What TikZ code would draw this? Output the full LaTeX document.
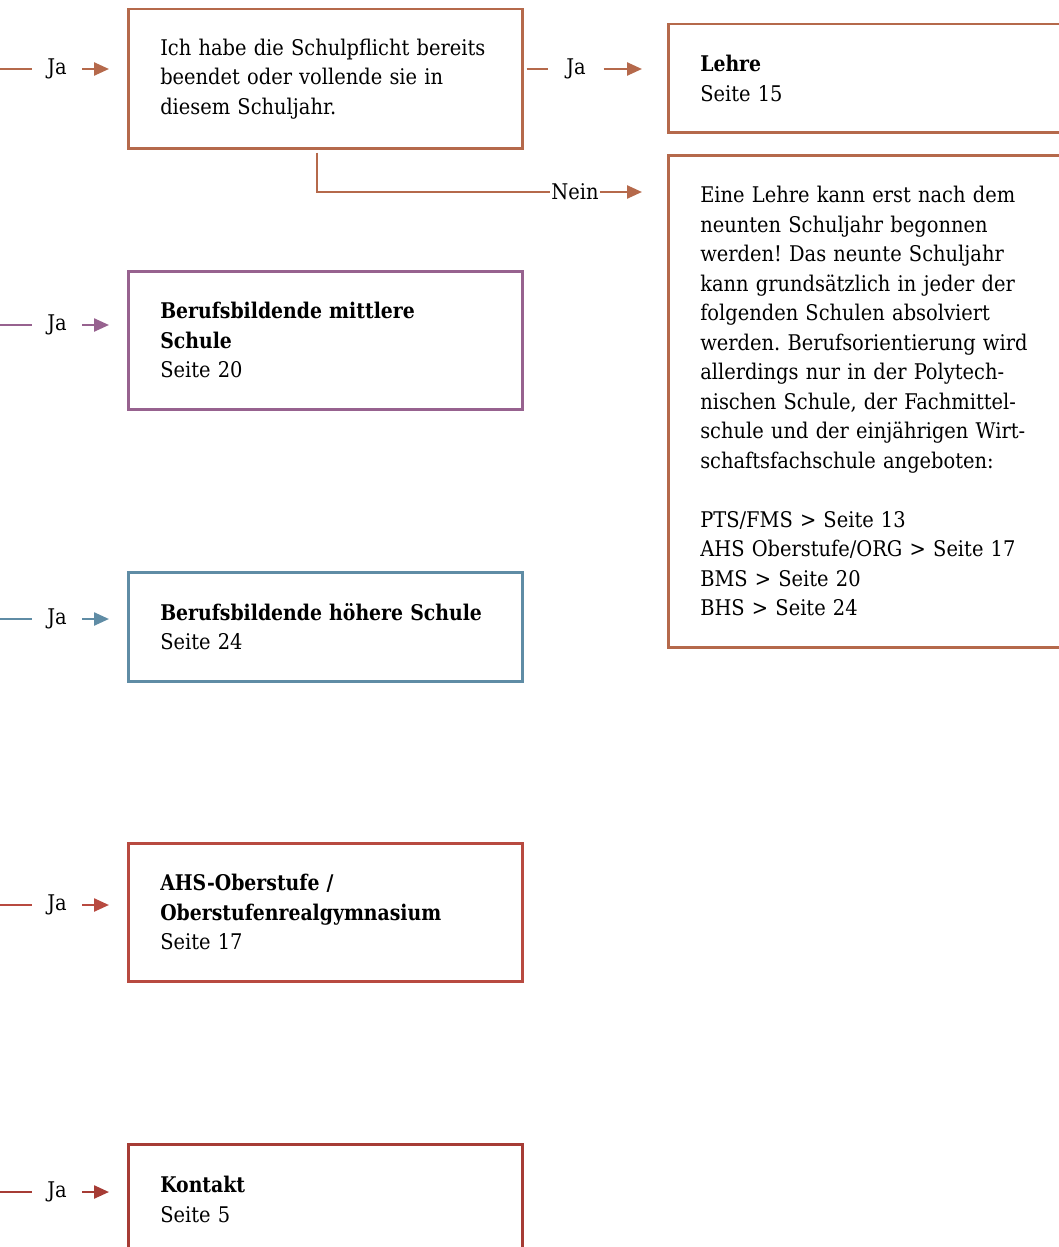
\documentclass[tikz,border=0pt]{standalone}
\usepackage{fontspec}
\setmainfont{DejaVu Serif Condensed}[BoldFeatures={FakeStretch=0.97}]
\usetikzlibrary{arrows.meta}
\definecolor{cbrown}{HTML}{B5694B}
\definecolor{cpurple}{HTML}{97628F}
\definecolor{cblue}{HTML}{5F8CA5}
\definecolor{cred}{HTML}{B84A40}
\definecolor{cdred}{HTML}{A63C35}
\frenchspacing
\begin{document}
\begin{tikzpicture}[x=1pt,y=-1pt,
  box/.style={draw=#1, line width=2.5pt, rectangle, anchor=north west,
    align=left, inner xsep=32pt, inner ysep=0pt,
    font=\fontsize{21.6}{29.5}\selectfont},
  lbl/.style={inner sep=0pt, minimum width=#1, font=\fontsize{21.6}{24}\selectfont},
  lbl/.default=50pt,
  conn/.style={draw=#1, line width=2.4pt},
  arr/.style={draw=#1, line width=2.4pt, -{Triangle[length=15pt,width=13pt]}}
]
\useasboundingbox (0,0) rectangle (1058,1247);

% boxes
\node[box=cbrown, text width=330pt, minimum height=139pt] (b1) at (127,8)
  {Ich habe die Schulpflicht bereits\\beendet oder vollende sie in\\diesem Schuljahr.};
\node[box=cbrown, text width=356pt, minimum height=108pt] (lehre) at (667,23)
  {\textbf{Lehre}\\Seite 15};
\node[box=cbrown, text width=356pt, minimum height=492pt] (info) at (667,154)
  {Eine Lehre kann erst nach dem\\neunten Schuljahr begonnen\\werden! Das neunte Schuljahr\\kann grundsätzlich in jeder der\\folgenden Schulen absolviert\\werden. Berufsorientierung wird\\allerdings nur in der Polytech-\\nischen Schule, der Fachmittel-\\schule und der einjährigen Wirt-\\schaftsfachschule angeboten:\\[29.5pt]PTS/FMS > Seite 13\\AHS Oberstufe/ORG > Seite 17\\BMS > Seite 20\\BHS > Seite 24};
\node[box=cpurple, text width=330pt, minimum height=138pt] (bms) at (127,270)
  {\textbf{Berufsbildende mittlere}\\\textbf{Schule}\\Seite 20};
\node[box=cblue, text width=330pt, minimum height=109pt] (bhs) at (127,571)
  {\mbox{\textbf{Berufsbildende höhere Schule}}\\Seite 24};
\node[box=cred, text width=330pt, minimum height=138pt] (ahs) at (127,842)
  {\textbf{AHS-Oberstufe /}\\\textbf{Oberstufenrealgymnasium}\\Seite 17};
\node[box=cdred, text width=330pt, minimum height=110pt] (kon) at (127,1143)
  {\textbf{Kontakt}\\Seite 5};

% incoming Ja connectors
\foreach \n/\b/\y/\c in {1/b1/69/cbrown, 2/bms/325/cpurple, 3/bhs/619/cblue, 4/ahs/905/cred, 5/kon/1192/cdred}{
  \coordinate (i\n) at (0,\y);
  \node[lbl] (j\n) at (57,\y) {Ja};
  \draw[conn=\c] (i\n) -- (j\n.west);
  \draw[arr=\c, shorten >=18pt] (j\n.east) -- (\b.west |- j\n.east);
}

% Ja to Lehre
\node[lbl=55pt] (jr) at (576,69) {Ja};
\draw[conn=cbrown, shorten <=3pt] (b1.east |- jr) -- (jr.west);
\draw[arr=cbrown, shorten >=25pt] (jr.east) -- (lehre.west |- jr);

% Nein to info
\coordinate (nk) at (317,192);
\node[lbl=50pt] (nein) at (575,192) {Nein};
\draw[conn=cbrown, shorten <=3pt] (b1.south -| nk) -- (nk) -- (nein.west);
\draw[arr=cbrown, shorten >=25pt] (nein.east) -- (info.west |- nein);
\end{tikzpicture}
\end{document}
